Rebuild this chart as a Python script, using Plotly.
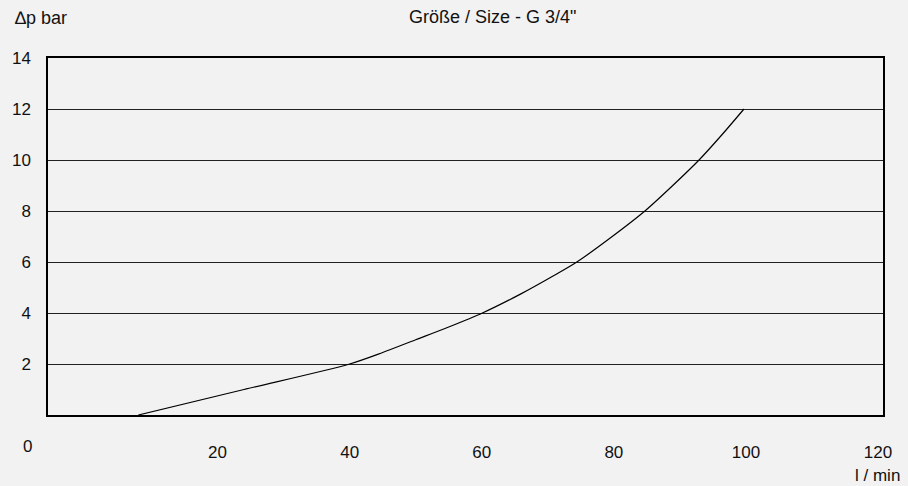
import plotly.graph_objects as go

# Data
flow = [8, 24, 40, 45, 50, 55, 60.1, 66, 71, 74.4, 79.5, 84.7, 88.8, 92.9, 96.4, 99.7]
dp = [0, 1, 2, 2.45, 2.95, 3.45, 4, 4.76, 5.48, 6, 6.95, 8, 8.97, 10, 11, 12]

x_ticks = [20, 40, 60, 80, 100, 120]
x_tick_text = ["20", "40", "60", "80", "100", "120"]
y_ticks = [2, 4, 6, 8, 10, 12, 14]
y_tick_text = ["2", "4", "6", "8", "10", "12", "14"]

title_text = "Größe / Size - G 3/4\""
y_label = "∆p bar"
x_label = "l / min"

FONT = "Liberation Sans, Arial, sans-serif"
BG = "#f2f2f2"

fig = go.Figure()
fig.add_trace(go.Scatter(x=flow, y=dp, mode="lines",
                         line=dict(color="#000000", width=1.2, shape="spline", smoothing=0.8),
                         hoverinfo="skip", showlegend=False))

fig.update_layout(
    width=908, height=486,
    paper_bgcolor=BG, plot_bgcolor=BG,
    margin=dict(l=43, r=25, t=58, b=71),
    font=dict(family=FONT, size=17, color="#111111"),
    showlegend=False,
    xaxis=dict(range=[-5.67, 120.75], tickvals=x_ticks, ticktext=x_tick_text,
               showgrid=False, zeroline=False, showline=True, mirror=True,
               linecolor="#000000", linewidth=1.5, ticks="", ticklabelstandoff=21,
               tickfont=dict(size=17)),
    yaxis=dict(range=[0, 14], tickvals=y_ticks, ticktext=y_tick_text,
               showgrid=True, gridcolor="#222222", gridwidth=1,
               zeroline=False, showline=True, mirror=True,
               linecolor="#000000", linewidth=1.5, ticks="", ticklabelstandoff=12,
               tickfont=dict(size=17)),
    annotations=[
        dict(text=title_text, xref="paper", yref="paper", x=0.532, y=1, yshift=41,
             xanchor="center", yanchor="middle", showarrow=False, font=dict(size=18)),
        dict(text=y_label, xref="paper", yref="paper", x=-0.042, y=1, yshift=40,
             xanchor="left", yanchor="middle", showarrow=False, font=dict(size=18)),
        dict(text=x_label, xref="paper", yref="paper", x=0.993, y=0, yshift=-60,
             xanchor="center", yanchor="middle", showarrow=False, font=dict(size=17)),
        dict(text="0", xref="paper", yref="paper", x=-0.025, y=0, yshift=-31,
             xanchor="center", yanchor="middle", showarrow=False, font=dict(size=17)),
    ],
)

fig.write_html("out.html", config={"displayModeBar": False},
               post_script="document.body.style.margin='0';document.body.style.overflow='hidden';")
